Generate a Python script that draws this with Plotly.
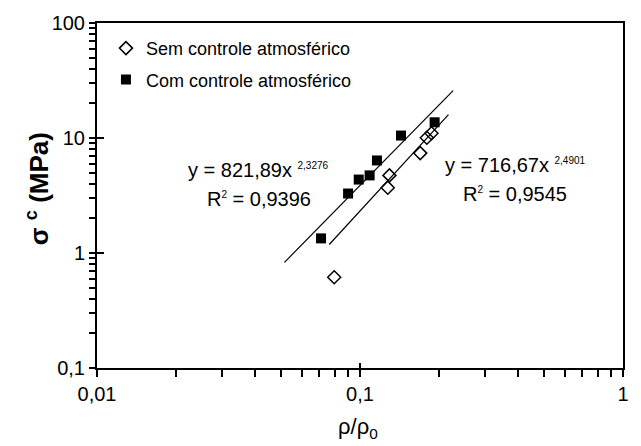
import numpy as np
import plotly.graph_objects as go

# ---- data ----
sem_x = [0.0798, 0.1275, 0.1294, 0.1694, 0.1795, 0.187]
sem_y = [0.616, 3.70, 4.73, 7.39, 10.04, 11.0]
com_x = [0.0711, 0.0901, 0.0989, 0.1088, 0.116, 0.1432, 0.1922]
com_y = [1.34, 3.29, 4.35, 4.73, 6.38, 10.5, 13.7]

sem_fit = {"a": 716.67, "b": 2.4901, "xmin": 0.0764, "xmax": 0.217}
com_fit = {"a": 821.89, "b": 2.3276, "xmin": 0.0516, "xmax": 0.226}

x_major = [0.01, 0.1, 1]
x_major_text = ["0,01", "0,1", "1"]
y_major = [0.1, 1, 10, 100]
y_major_text = ["0,1", "1", "10", "100"]

def minors(lo, hi):
    out = []
    for d in range(lo, hi):
        for k in range(2, 10):
            out.append(k * 10.0 ** d)
    return out

x_minor = minors(-2, 0)
y_minor = minors(-1, 2)

FONT = "Liberation Sans, Arial, sans-serif"

fig = go.Figure()

# fit lines
for f in (com_fit, sem_fit):
    xs = np.logspace(np.log10(f["xmin"]), np.log10(f["xmax"]), 60)
    fig.add_trace(go.Scatter(x=xs, y=f["a"] * xs ** f["b"], mode="lines",
                             line=dict(color="black", width=1.2),
                             showlegend=False, hoverinfo="skip"))

fig.add_trace(go.Scatter(x=sem_x, y=sem_y, mode="markers", name="Sem controle atmosférico",
                         legendgroup="a",
                         marker=dict(symbol="diamond-open", size=10, color="black",
                                     line=dict(width=1.5, color="black"))))
fig.add_trace(go.Scatter(x=com_x, y=com_y, mode="markers", name="Com controle atmosférico",
                         legendgroup="b",
                         marker=dict(symbol="square", size=10, color="black")))

# invisible trace that creates the overlay subplot (inside major ticks)
fig.add_trace(go.Scatter(x=sem_x[:1], y=sem_y[:1], xaxis="x2", yaxis="y2", mode="markers",
                         marker=dict(opacity=0), showlegend=False, hoverinfo="skip"))

fig.update_layout(
    width=641, height=446,
    margin=dict(l=97, r=14, t=22, b=78),
    paper_bgcolor="white", plot_bgcolor="white",
    font=dict(family=FONT, color="black"),
    xaxis=dict(type="log", range=[-2, 0], tickmode="array",
               tickvals=x_major + x_minor,
               ticktext=x_major_text + [""] * len(x_minor),
               ticks="outside", ticklen=7, tickwidth=2, tickcolor="black",
               showline=True, linecolor="black", linewidth=2, mirror=True,
               showgrid=False, zeroline=False,
               tickfont=dict(family=FONT, size=20, color="black")),
    yaxis=dict(type="log", range=[-1, 2], tickmode="array",
               tickvals=y_major + y_minor,
               ticktext=y_major_text + [""] * len(y_minor),
               ticks="outside", ticklen=6, tickwidth=2, tickcolor="black",
               showline=True, linecolor="black", linewidth=2, mirror=True,
               showgrid=False, zeroline=False,
               tickfont=dict(family=FONT, size=20, color="black")),
    xaxis2=dict(type="log", range=[-2, 0], overlaying="x", anchor="y", side="bottom",
                tickmode="array", tickvals=x_major, ticks="inside", ticklen=5, tickwidth=2,
                tickcolor="black", showticklabels=False, showline=False, showgrid=False,
                zeroline=False),
    yaxis2=dict(type="log", range=[-1, 2], overlaying="y", anchor="x", side="left",
                tickmode="array", tickvals=y_major, ticks="inside", ticklen=7, tickwidth=2,
                tickcolor="black", showticklabels=False, showline=False, showgrid=False,
                zeroline=False),
    legend=dict(x=0.017, y=0.98, xanchor="left", yanchor="top",
                bgcolor="rgba(0,0,0,0)", traceorder="grouped", tracegroupgap=5,
                font=dict(family=FONT, size=18, color="black")),
    showlegend=True,
)

SUP = "<sup><span style='font-size:10px'>{}</span></sup>"
ann = [
    dict(text="<b>σ <sup>c</sup> (MPa)</b>", x=-0.113, y=0.52, textangle=-90,
         font=dict(size=26, family=FONT), xanchor="center", yanchor="middle"),
    dict(text="ρ/ρ<sub>0</sub>", x=0.496, y=-0.175,
         font=dict(size=22, family=FONT), xanchor="center", yanchor="middle"),
    dict(text="y = 821,89x " + SUP.format("2,3276"), x=0.169, y=0.575,
         font=dict(size=20, family=FONT), xanchor="left", yanchor="middle"),
    dict(text="R" + SUP.format("2") + " = 0,9396", x=0.206, y=0.49,
         font=dict(size=20, family=FONT), xanchor="left", yanchor="middle"),
    dict(text="y = 716,67x " + SUP.format("2,4901"), x=0.657, y=0.587,
         font=dict(size=20, family=FONT), xanchor="left", yanchor="middle"),
    dict(text="R" + SUP.format("2") + " = 0,9545", x=0.692, y=0.503,
         font=dict(size=20, family=FONT), xanchor="left", yanchor="middle"),
]
for a in ann:
    a.update(xref="paper", yref="paper", showarrow=False)
    fig.add_annotation(**a)

fig.write_html("out.html")
